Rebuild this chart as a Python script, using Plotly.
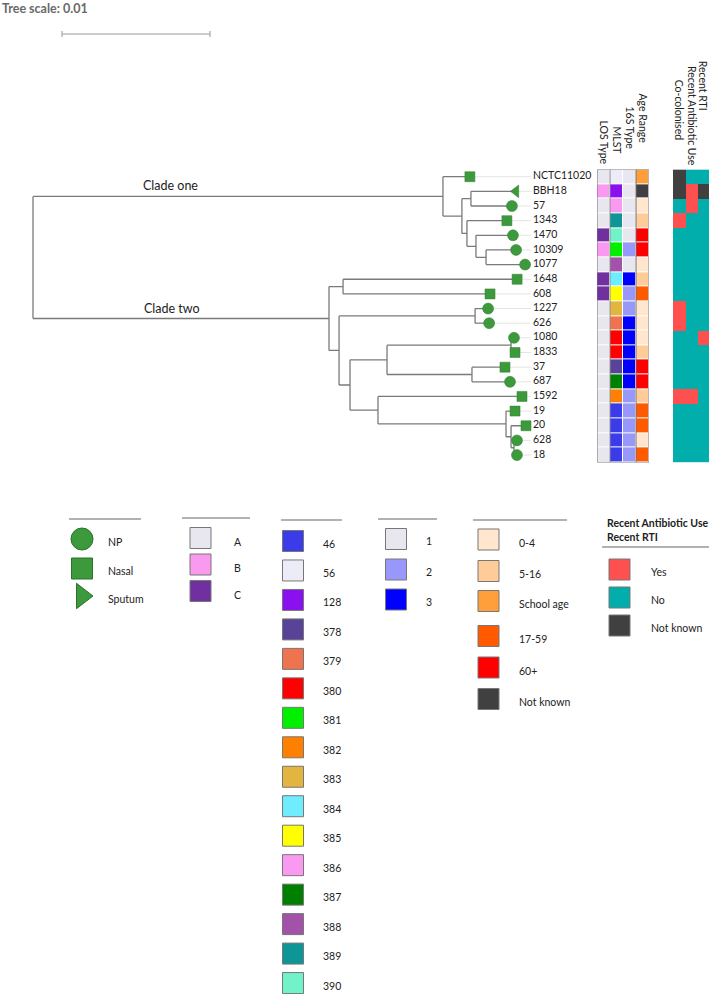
import plotly.graph_objects as go

W, H = 709, 994

# ---------------- data ----------------
newick = ("((NCTC11020:0.00182,((BBH18:0.00304,57:0.00277):0.00061,(1343:0.00270,(1470:0.00250,"
          "(10309:0.00203,1077:0.00264):0.00068):0.00061):0.00034):0.00128):0.02770,"
          "((1648:0.01176,608:0.00993):0.00095,((1227:0.00088,626:0.00095):0.00919,"
          "(((1080:0.00020,1833:0.00027):0.00838,(37:0.00223,687:0.00257):0.00574):0.00250,"
          "(1592:0.00973,(19:0.00061,(20:0.00101,(628:0.00020,18:0.00020):0.00020):0.00034):0.00865)"
          ":0.00189):0.00074):0.00068):0.02000);")

taxa = ["NCTC11020", "BBH18", "57", "1343", "1470", "10309", "1077", "1648", "608", "1227",
        "626", "1080", "1833", "37", "687", "1592", "19", "20", "628", "18"]
sample_type = ["Nasal", "Sputum", "NP", "Nasal", "NP", "NP", "NP", "Nasal", "Nasal", "NP",
               "NP", "NP", "Nasal", "Nasal", "NP", "Nasal", "Nasal", "Nasal", "NP", "NP"]
los_type = ["A", "B", "A", "A", "C", "B", "A", "C", "C", "A",
            "A", "A", "A", "A", "A", "A", "A", "A", "A", "A"]
mlst = ["56", "128", "386", "389", "390", "381", "388", "384", "385", "383",
        "379", "380", "380", "378", "387", "382", "46", "46", "46", "46"]
type_16s = ["1", "1", "1", "1", "1", "2", "1", "3", "2", "2",
            "3", "3", "3", "3", "3", "2", "2", "2", "2", "2"]
age_range = ["School age", "Not known", "0-4", "5-16", "60+", "60+", "0-4", "5-16", "17-59", "0-4",
             "0-4", "0-4", "5-16", "60+", "60+", "5-16", "17-59", "17-59", "0-4", "17-59"]
co_colonised = ["Not known", "Not known", "No", "Yes", "No", "No", "No", "No", "No", "Yes",
                "Yes", "No", "No", "No", "No", "Yes", "No", "No", "No", "No"]
recent_abx = ["No", "Yes", "Yes", "No", "No", "No", "No", "No", "No", "No",
              "No", "No", "No", "No", "No", "Yes", "No", "No", "No", "No"]
recent_rti = ["No", "Not known", "No", "No", "No", "No", "No", "No", "No", "No",
              "No", "Yes", "No", "No", "No", "No", "No", "No", "No", "No"]

sample_cats = ["NP", "Nasal", "Sputum"]
los_cats = ["A", "B", "C"]
los_colors = ["#E8E6EE", "#F99AF0", "#7030A0"]
mlst_cats = ["46", "56", "128", "378", "379", "380", "381", "382", "383", "384",
             "385", "386", "387", "388", "389", "390"]
mlst_colors = ["#3B3BEA", "#ECECF8", "#8B10F0", "#584399", "#F07350", "#FF0000", "#00F000",
               "#FF8000", "#E2B440", "#70ECFF", "#FFFF00", "#F99AF0", "#008000", "#A252A8",
               "#0E9696", "#72F2C8"]
s16_cats = ["1", "2", "3"]
s16_colors = ["#E8E6EE", "#9898FA", "#0000FF"]
age_cats = ["0-4", "5-16", "School age", "17-59", "60+", "Not known"]
age_colors = ["#FFE6CC", "#FFCC99", "#FF9F3C", "#FF5A00", "#FF0000", "#404040"]
yn_cats = ["Yes", "No", "Not known"]
yn_colors = ["#FF5050", "#02AEAB", "#404040"]

left_headers = ["LOS Type", "MLST", "16S Type", "Age Range"]
right_headers = ["Co-colonised", "Recent Antibiotic Use", "Recent RTI"]

# ---------------- styles / layout constants ----------------
FONT = "Lato, 'Open Sans', sans-serif"
TXT = "#222222"
GREEN = "#3C9A3C"
BRANCH = "#7a7a7a"
PX_PER_UNIT = 14800.0       # px per substitution unit (0.01 -> 148 px)
ROOT_PX = 33
ROW0_PX, ROW_STEP = 176.7, 14.65
NROW = len(taxa)


def parse_newick(s):
    s = s.strip().rstrip(';')
    pos = 0

    def node():
        nonlocal pos
        children = []
        if s[pos] == '(':
            pos += 1
            while True:
                children.append(node())
                if s[pos] == ',':
                    pos += 1
                    continue
                if s[pos] == ')':
                    pos += 1
                    break
        st = pos
        while pos < len(s) and s[pos] not in ',():':
            pos += 1
        name = s[st:pos]
        length = 0.0
        if pos < len(s) and s[pos] == ':':
            pos += 1
            st = pos
            while pos < len(s) and s[pos] not in ',()':
                pos += 1
            length = float(s[st:pos])
        return {"name": name, "len": length, "children": children}

    return node()


tree = parse_newick(newick)


def layout(n, depth):
    n["x"] = depth + n["len"]
    if n["children"]:
        for c in n["children"]:
            layout(c, n["x"])
        n["y"] = (n["children"][0]["y"] + n["children"][-1]["y"]) / 2.0
    else:
        n["y"] = taxa.index(n["name"])


tree["len"] = 0.0
layout(tree, 0.0)

bx, by = [], []
tips = []


def collect(n, parent_x):
    if parent_x is not None:
        bx.extend([parent_x, n["x"], None])
        by.extend([n["y"], n["y"], None])
    if n["children"]:
        bx.extend([n["x"], n["x"], None])
        by.extend([n["children"][0]["y"], n["children"][-1]["y"], None])
        for c in n["children"]:
            collect(c, n["x"])
    else:
        tips.append(n)


collect(tree, None)
tips.sort(key=lambda t: t["y"])
max_tip = max(t["x"] for t in tips)
label_x = max_tip + 7 / PX_PER_UNIT

fig = go.Figure()

# leader lines tip -> label
lx, ly = [], []
for t in tips:
    lx.extend([t["x"], label_x - 2 / PX_PER_UNIT, None])
    ly.extend([t["y"], t["y"], None])
fig.add_trace(go.Scatter(x=lx, y=ly, mode="lines", line=dict(color="#e4e4e4", width=1),
                         hoverinfo="skip", xaxis="x", yaxis="y"))

# branches
fig.add_trace(go.Scatter(x=bx, y=by, mode="lines", line=dict(color=BRANCH, width=1.3),
                         hoverinfo="skip", xaxis="x", yaxis="y"))

tree_sym = {"NP": "circle", "Nasal": "square", "Sputum": "triangle-left"}
tree_size = {"NP": 11, "Nasal": 10, "Sputum": 11}
fig.add_trace(go.Scatter(
    x=[t["x"] for t in tips], y=[t["y"] for t in tips], mode="markers",
    marker=dict(symbol=[tree_sym[sample_type[taxa.index(t["name"])]] for t in tips],
                size=[tree_size[sample_type[taxa.index(t["name"])]] for t in tips],
                color=GREEN, opacity=1, line=dict(color="#2f7f2f", width=0.5)),
    hoverinfo="skip", xaxis="x", yaxis="y"))

# tip labels
fig.add_trace(go.Scatter(
    x=[label_x] * NROW, y=list(range(NROW)), mode="text", text=taxa,
    textposition="middle right", textfont=dict(family=FONT, size=10.5, color=TXT),
    hoverinfo="skip", xaxis="x", yaxis="y"))


# heatmaps
def discrete_scale(colors):
    n = len(colors)
    sc = []
    for i, c in enumerate(colors):
        sc.append([i / n, c])
        sc.append([(i + 1) / n, c])
    return sc


left_palette = los_colors + mlst_colors + s16_colors + age_colors
offs = [0, len(los_colors), len(los_colors) + len(mlst_colors),
        len(los_colors) + len(mlst_colors) + len(s16_colors)]
left_cols = [(los_type, los_cats), (mlst, mlst_cats), (type_16s, s16_cats), (age_range, age_cats)]
zl = []
for r in range(NROW):
    zl.append([offs[j] + cats.index(vals[r]) for j, (vals, cats) in enumerate(left_cols)])
fig.add_trace(go.Heatmap(z=zl, x=[0, 1, 2, 3], y=list(range(NROW)),
                         colorscale=discrete_scale(left_palette), zmin=-0.5,
                         zmax=len(left_palette) - 0.5, showscale=False, xgap=1, ygap=1,
                         hoverinfo="skip", xaxis="x2", yaxis="y"))

right_cols = [co_colonised, recent_abx, recent_rti]
zr = [[yn_cats.index(col[r]) for col in right_cols] for r in range(NROW)]
fig.add_trace(go.Heatmap(z=zr, x=[0, 1, 2], y=list(range(NROW)),
                         colorscale=discrete_scale(yn_colors), zmin=-0.5, zmax=2.5,
                         showscale=False, hoverinfo="skip", xaxis="x3", yaxis="y"))

shapes = []
annotations = []
shapes.append(dict(type="rect", xref="x2", yref="y", x0=-0.5, x1=3.5, y0=-0.5, y1=NROW - 0.5,
                   line=dict(color="#707070", width=1)))
shapes.append(dict(type="line", xref="x2", yref="y", x0=2.5, x1=2.5, y0=-0.5, y1=NROW - 0.5,
                   line=dict(color="#707070", width=1)))
shapes.append(dict(type="line", xref="x2", yref="y", x0=0.5, x1=0.5, y0=-0.5, y1=NROW - 0.5,
                   line=dict(color="#8a8a8a", width=1)))

# headers (rotated, centred at given pixel heights)
left_mid = [142, 140, 128, 118]
for j, h in enumerate(left_headers):
    annotations.append(dict(text=h, xref="x2", yref="paper", x=j, y=1 - left_mid[j] / H,
                            yanchor="middle", xanchor="center", textangle=90, showarrow=False,
                            font=dict(family=FONT, size=10.5, color=TXT)))
right_mid = [110, 116, 86]
right_xshift = [0, 0, -1.5]
for j, h in enumerate(right_headers):
    annotations.append(dict(text=h, xref="x3", yref="paper", x=j, y=1 - right_mid[j] / H,
                            yanchor="middle", xanchor="center", textangle=90, showarrow=False,
                            xshift=right_xshift[j],
                            font=dict(family=FONT, size=10.5, color=TXT)))

# clade labels
annotations.append(dict(text="Clade one", xref="x", yref="y",
                        x=(170 - ROOT_PX) / PX_PER_UNIT, y=tree["children"][0]["y"],
                        yshift=11, showarrow=False, font=dict(family=FONT, size=12.5, color=TXT)))
annotations.append(dict(text="Clade two", xref="x", yref="y",
                        x=(172 - ROOT_PX) / PX_PER_UNIT, y=tree["children"][1]["y"],
                        yshift=10, showarrow=False, font=dict(family=FONT, size=12.5, color=TXT)))

# tree scale
sb_x0 = (62 - ROOT_PX) / PX_PER_UNIT
sb_len = 0.01
sb_y = 1 - 34 / H
shapes.append(dict(type="line", xref="x", yref="paper", x0=sb_x0, x1=sb_x0 + sb_len,
                   y0=sb_y, y1=sb_y, line=dict(color="#999999", width=1)))
for xx in (sb_x0, sb_x0 + sb_len):
    shapes.append(dict(type="line", xref="x", yref="paper", x0=xx, x1=xx,
                       y0=sb_y - 3 / H, y1=sb_y + 3 / H, line=dict(color="#999999", width=1)))
annotations.append(dict(text="<b>Tree scale: %s</b>" % sb_len, xref="paper", yref="paper",
                        x=0, y=1 - 8 / H, xanchor="left", yanchor="middle", showarrow=False,
                        font=dict(family=FONT, size=12.5, color="#6a6a6a")))


# legends (canvas axis x4/y4 in pixels)
def legend_block(items, colors, symbols, mx, lx_, ys, size=21, label_dy=2.5, edge="#777777"):
    fig.add_trace(go.Scatter(x=[mx] * len(items), y=ys, mode="markers",
                             marker=dict(symbol=symbols, size=size, color=colors, opacity=1,
                                         line=dict(color=edge, width=1)),
                             hoverinfo="skip", xaxis="x4", yaxis="y4"))
    for it, yy in zip(items, ys):
        annotations.append(dict(text=it, xref="x4", yref="y4", x=lx_, y=yy + label_dy,
                                xanchor="left", yanchor="middle", showarrow=False,
                                font=dict(family=FONT, size=10.5, color=TXT)))


legend_sym = {"NP": "circle", "Nasal": "square", "Sputum": "triangle-right"}
legend_block(sample_cats, [GREEN] * 3, [legend_sym[c] for c in sample_cats], 82, 106,
             [539, 568.5, 596], size=[22, 21, 22], edge="#2f6f2f")
legend_block(los_cats, los_colors, ["square"] * 3, 200.5, 232, [538, 564.5, 591], label_dy=3.5)
legend_block(mlst_cats, mlst_colors, ["square"] * len(mlst_cats), 293, 321,
             [541 + 29.47 * i for i in range(len(mlst_cats))], label_dy=2.5)
legend_block(s16_cats, s16_colors, ["square"] * 3, 396, 424, [539, 569.5, 599.5], label_dy=2)
legend_block(age_cats, age_colors, ["square"] * 6, 488.5, 517,
             [539.5, 571, 601, 636, 667.5, 699], label_dy=3)
legend_block(yn_cats, yn_colors, ["square"] * 3, 619.5, 649, [569.5, 597.5, 625.5], label_dy=2.5)

for x0, x1, yy in [(69, 141, 519), (182, 250, 518), (281, 342, 520), (378, 437, 519),
                   (473, 567, 520), (602, 709, 547)]:
    shapes.append(dict(type="line", xref="x4", yref="y4", x0=x0, x1=x1, y0=yy, y1=yy,
                       line=dict(color="#999999", width=1.3)))
annotations.append(dict(text="<b>Recent Antibiotic Use</b>", xref="x4", yref="y4", x=605, y=523,
                        xanchor="left", yanchor="middle", showarrow=False,
                        font=dict(family=FONT, size=10.5, color=TXT)))
annotations.append(dict(text="<b>Recent RTI</b>", xref="x4", yref="y4", x=605, y=537,
                        xanchor="left", yanchor="middle", showarrow=False,
                        font=dict(family=FONT, size=10.5, color=TXT)))

# ---------------- axes ----------------
y_top = 1 - (ROW0_PX - ROW_STEP / 2) / H
y_bot = 1 - (ROW0_PX + ROW_STEP * (NROW - 0.5)) / H
hidden = dict(visible=False, showgrid=False, zeroline=False, fixedrange=True)
right_col_px = 12.7
fig.update_layout(
    width=W, height=H, margin=dict(l=0, r=0, t=0, b=0),
    paper_bgcolor="white", plot_bgcolor="rgba(0,0,0,0)", showlegend=False,
    xaxis=dict(domain=[0, 1], range=[-ROOT_PX / PX_PER_UNIT, (W - ROOT_PX) / PX_PER_UNIT],
               anchor="y", **hidden),
    yaxis=dict(domain=[y_bot, y_top], range=[NROW - 0.5, -0.5], anchor="x", **hidden),
    xaxis2=dict(domain=[597 / W, 649 / W], range=[-0.5, 3.5], anchor="y", **hidden),
    xaxis3=dict(domain=[673 / W, 1], range=[-0.5, -0.5 + (W - 673) / right_col_px],
                anchor="y", **hidden),
    xaxis4=dict(domain=[0, 1], range=[0, W], anchor="y4", **hidden),
    yaxis4=dict(domain=[0, 1], range=[H, 0], anchor="x4", **hidden),
    shapes=shapes, annotations=annotations,
)

fig.write_html("out.html", config={"displayModeBar": False},
               post_script="document.body.style.margin='0px';document.body.style.overflow='hidden';")
